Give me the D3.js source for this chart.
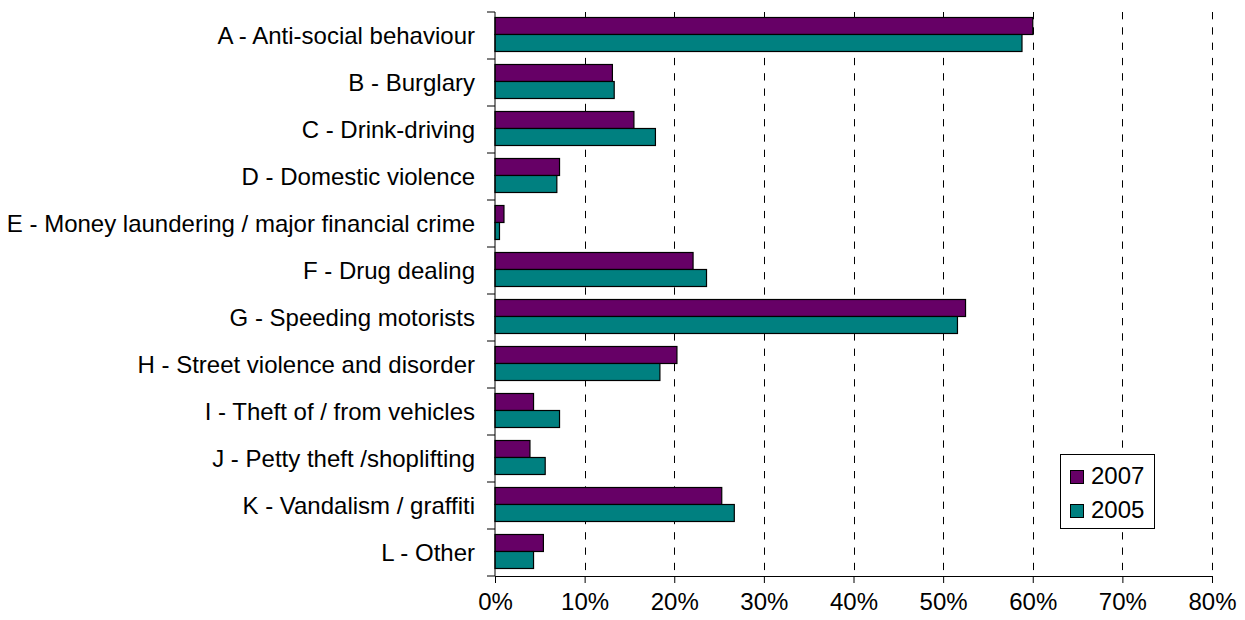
<!DOCTYPE html>
<html>
<head>
<meta charset="utf-8">
<script src="https://cdn.jsdelivr.net/npm/d3@7"></script>
<style>
  html, body { margin: 0; padding: 0; background: #fff; }
  svg { display: block; }
  text { font-family: "Liberation Sans", Arial, sans-serif; fill: #000; }
</style>
</head>
<body>
<svg id="chart" width="1245" height="620"></svg>
<script>
// Categories, top to bottom
const categories = [
  "A - Anti-social behaviour",
  "B - Burglary",
  "C - Drink-driving",
  "D - Domestic violence",
  "E - Money laundering / major financial crime",
  "F - Drug dealing",
  "G - Speeding motorists",
  "H - Street violence and disorder",
  "I - Theft of / from vehicles",
  "J - Petty theft /shoplifting",
  "K - Vandalism / graffiti",
  "L - Other"
];

// Share of respondents (%) per survey year
const values2007 = [60.0, 13.1, 15.5, 7.2, 1.0, 22.1, 52.5, 20.3, 4.3, 3.9, 25.3, 5.4];
const values2005 = [58.8, 13.3, 17.9, 6.9, 0.5, 23.6, 51.6, 18.4, 7.2, 5.6, 26.7, 4.3];

const seriesNames = ["2007", "2005"];
const seriesColors = ["#660066", "#008080"];
const xTicks = [0, 10, 20, 30, 40, 50, 60, 70, 80];

const FONT_SIZE = 24;

const svg = d3.select("#chart");
const plot = { left: 495, right: 1212, top: 12, bottom: 576 };

const x = d3.scaleLinear().domain([0, 80]).range([plot.left, plot.right]);
const y = d3.scaleBand().domain(categories).range([plot.top, plot.bottom]).padding(0);
const sub = d3.scaleBand().domain(seriesNames).range([5.5, 39.5]).padding(0);

const rows = categories.map((c, i) => ({ cat: c, vals: [values2007[i], values2005[i]] }));

// Dashed vertical gridlines
svg.append("g")
  .selectAll("line")
  .data(xTicks.filter(t => t > 0))
  .join("line")
  .attr("x1", d => Math.round(x(d)) + 0.5)
  .attr("x2", d => Math.round(x(d)) + 0.5)
  .attr("y1", plot.top)
  .attr("y2", plot.bottom)
  .attr("stroke", "#000")
  .attr("stroke-width", 1)
  .attr("stroke-dasharray", "7.3,8");

// Bars
const groups = svg.append("g")
  .selectAll("g")
  .data(rows)
  .join("g")
  .attr("transform", d => `translate(0,${y(d.cat)})`);

groups.selectAll("rect")
  .data(d => d.vals.map((v, j) => ({ v, s: seriesNames[j], color: seriesColors[j] })))
  .join("rect")
  .attr("x", x(0))
  .attr("y", d => sub(d.s))
  .attr("width", d => x(d.v) - x(0))
  .attr("height", sub.bandwidth())
  .attr("fill", d => d.color)
  .attr("stroke", "#000")
  .attr("stroke-width", 1.2);

// X axis
const xAxis = d3.axisBottom(x)
  .tickValues(xTicks)
  .tickFormat(d => d + "%")
  .tickSizeInner(7)
  .tickSizeOuter(0)
  .tickPadding(10);

const gx = svg.append("g")
  .attr("transform", `translate(0,${plot.bottom})`)
  .call(xAxis);
gx.select(".domain").attr("stroke", "#000");
gx.selectAll(".tick line").attr("stroke", "#000");
gx.selectAll(".tick text")
  .attr("font-size", FONT_SIZE)
  .attr("font-family", "Liberation Sans, Arial, sans-serif")
  .attr("fill", "#000");

// Y axis: line with tick marks at the category boundaries
const gy = svg.append("g");
gy.append("line")
  .attr("x1", plot.left).attr("x2", plot.left)
  .attr("y1", plot.top).attr("y2", plot.bottom)
  .attr("stroke", "#000");
const boundaries = categories.map(c => y(c)).concat([plot.bottom]);
gy.selectAll("line.tick")
  .data(boundaries)
  .join("line")
  .attr("class", "tick")
  .attr("x1", plot.left - 8).attr("x2", plot.left)
  .attr("y1", d => d).attr("y2", d => d)
  .attr("stroke", "#000");

// Category labels
svg.append("g")
  .selectAll("text")
  .data(categories)
  .join("text")
  .attr("x", plot.left - 20)
  .attr("y", d => y(d) + y.bandwidth() / 2 + 8.5)
  .attr("text-anchor", "end")
  .attr("font-size", FONT_SIZE)
  .text(d => d);

// Legend
const legend = svg.append("g").attr("transform", "translate(1060,454)");
legend.append("rect")
  .attr("x", 0.5).attr("y", 0.5)
  .attr("width", 94).attr("height", 74)
  .attr("fill", "#fff")
  .attr("stroke", "#000");
const items = legend.selectAll("g.item")
  .data(seriesNames)
  .join("g")
  .attr("class", "item")
  .attr("transform", (d, i) => `translate(0,${16 + i * 34})`);
items.append("rect")
  .attr("x", 10.5).attr("y", 0.5)
  .attr("width", 13).attr("height", 13)
  .attr("fill", (d, i) => seriesColors[i])
  .attr("stroke", "#000");
items.append("text")
  .attr("x", 31)
  .attr("y", 13.5)
  .attr("font-size", FONT_SIZE)
  .text(d => d);
</script>
</body>
</html>
